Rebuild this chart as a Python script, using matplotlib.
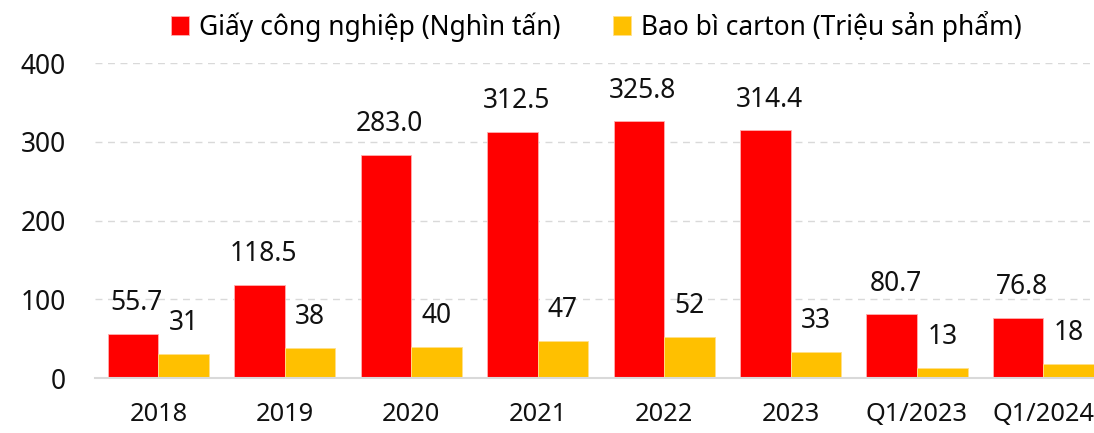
import matplotlib.pyplot as plt
import numpy as np

plt.rcParams['font.family'] = ['Noto Sans', 'DejaVu Sans']

# Data
categories = ['2018', '2019', '2020', '2021', '2022', '2023', 'Q1/2023', 'Q1/2024']
paper = [55.7, 118.5, 283.0, 312.5, 325.8, 314.4, 80.7, 76.8]
carton = [31, 38, 40, 47, 52, 33, 13, 18]
paper_label = 'Giấy công nghiệp (Nghìn tấn)'
carton_label = 'Bao bì carton (Triệu sản phẩm)'

red = '#FF0000'
yellow = '#FFC000'

fig = plt.figure(figsize=(10.94, 4.33), dpi=100)
ax = fig.add_axes([0.087, 0.127, 0.913, 0.7275])

x = np.arange(len(categories))
w = 0.4
b1 = ax.bar(x - w / 2, paper, w, color=red, edgecolor='#ffb0b0', linewidth=0.6, label=paper_label)
b2 = ax.bar(x + w / 2, carton, w, color=yellow, edgecolor='#ffe08a', linewidth=0.6, label=carton_label)

for bar, v in zip(b1, paper):
    ax.annotate(f'{v:.1f}', (bar.get_x() + bar.get_width() / 2 + 0.03, v), xytext=(0, 12),
                textcoords='offset points', ha='center', va='bottom', fontsize=19, color='#111111')
for bar, v in zip(b2, carton):
    ax.annotate(f'{v}', (bar.get_x() + bar.get_width() / 2, v), xytext=(0, 12),
                textcoords='offset points', ha='center', va='bottom', fontsize=19, color='#111111')

ax.set_ylim(0, 400)
ax.set_xlim(-0.5, 7.4)
ax.set_yticks([0, 100, 200, 300, 400])
ax.set_xticks(x)
ax.set_xticklabels(categories)
ax.tick_params(axis='both', length=0, labelsize=19, colors='#111111')
ax.tick_params(axis='x', pad=17, labelsize=18.3)
ax.tick_params(axis='y', pad=21)

ax.yaxis.grid(True, linestyle=(0, (5, 4)), color='#d9d9d9', linewidth=1)
ax.set_axisbelow(True)
for s in ['top', 'right', 'left']:
    ax.spines[s].set_visible(False)
ax.spines['bottom'].set_color('#d9d9d9')
ax.spines['bottom'].set_linewidth(1.5)

fig.legend(handles=[b1, b2], loc='upper center', bbox_to_anchor=(0.545, 1.03), ncol=2,
           frameon=False, fontsize=19, handlelength=0.7, handleheight=0.7,
           handletextpad=0.35, columnspacing=2.0)

fig.savefig('out.png', dpi=100)
